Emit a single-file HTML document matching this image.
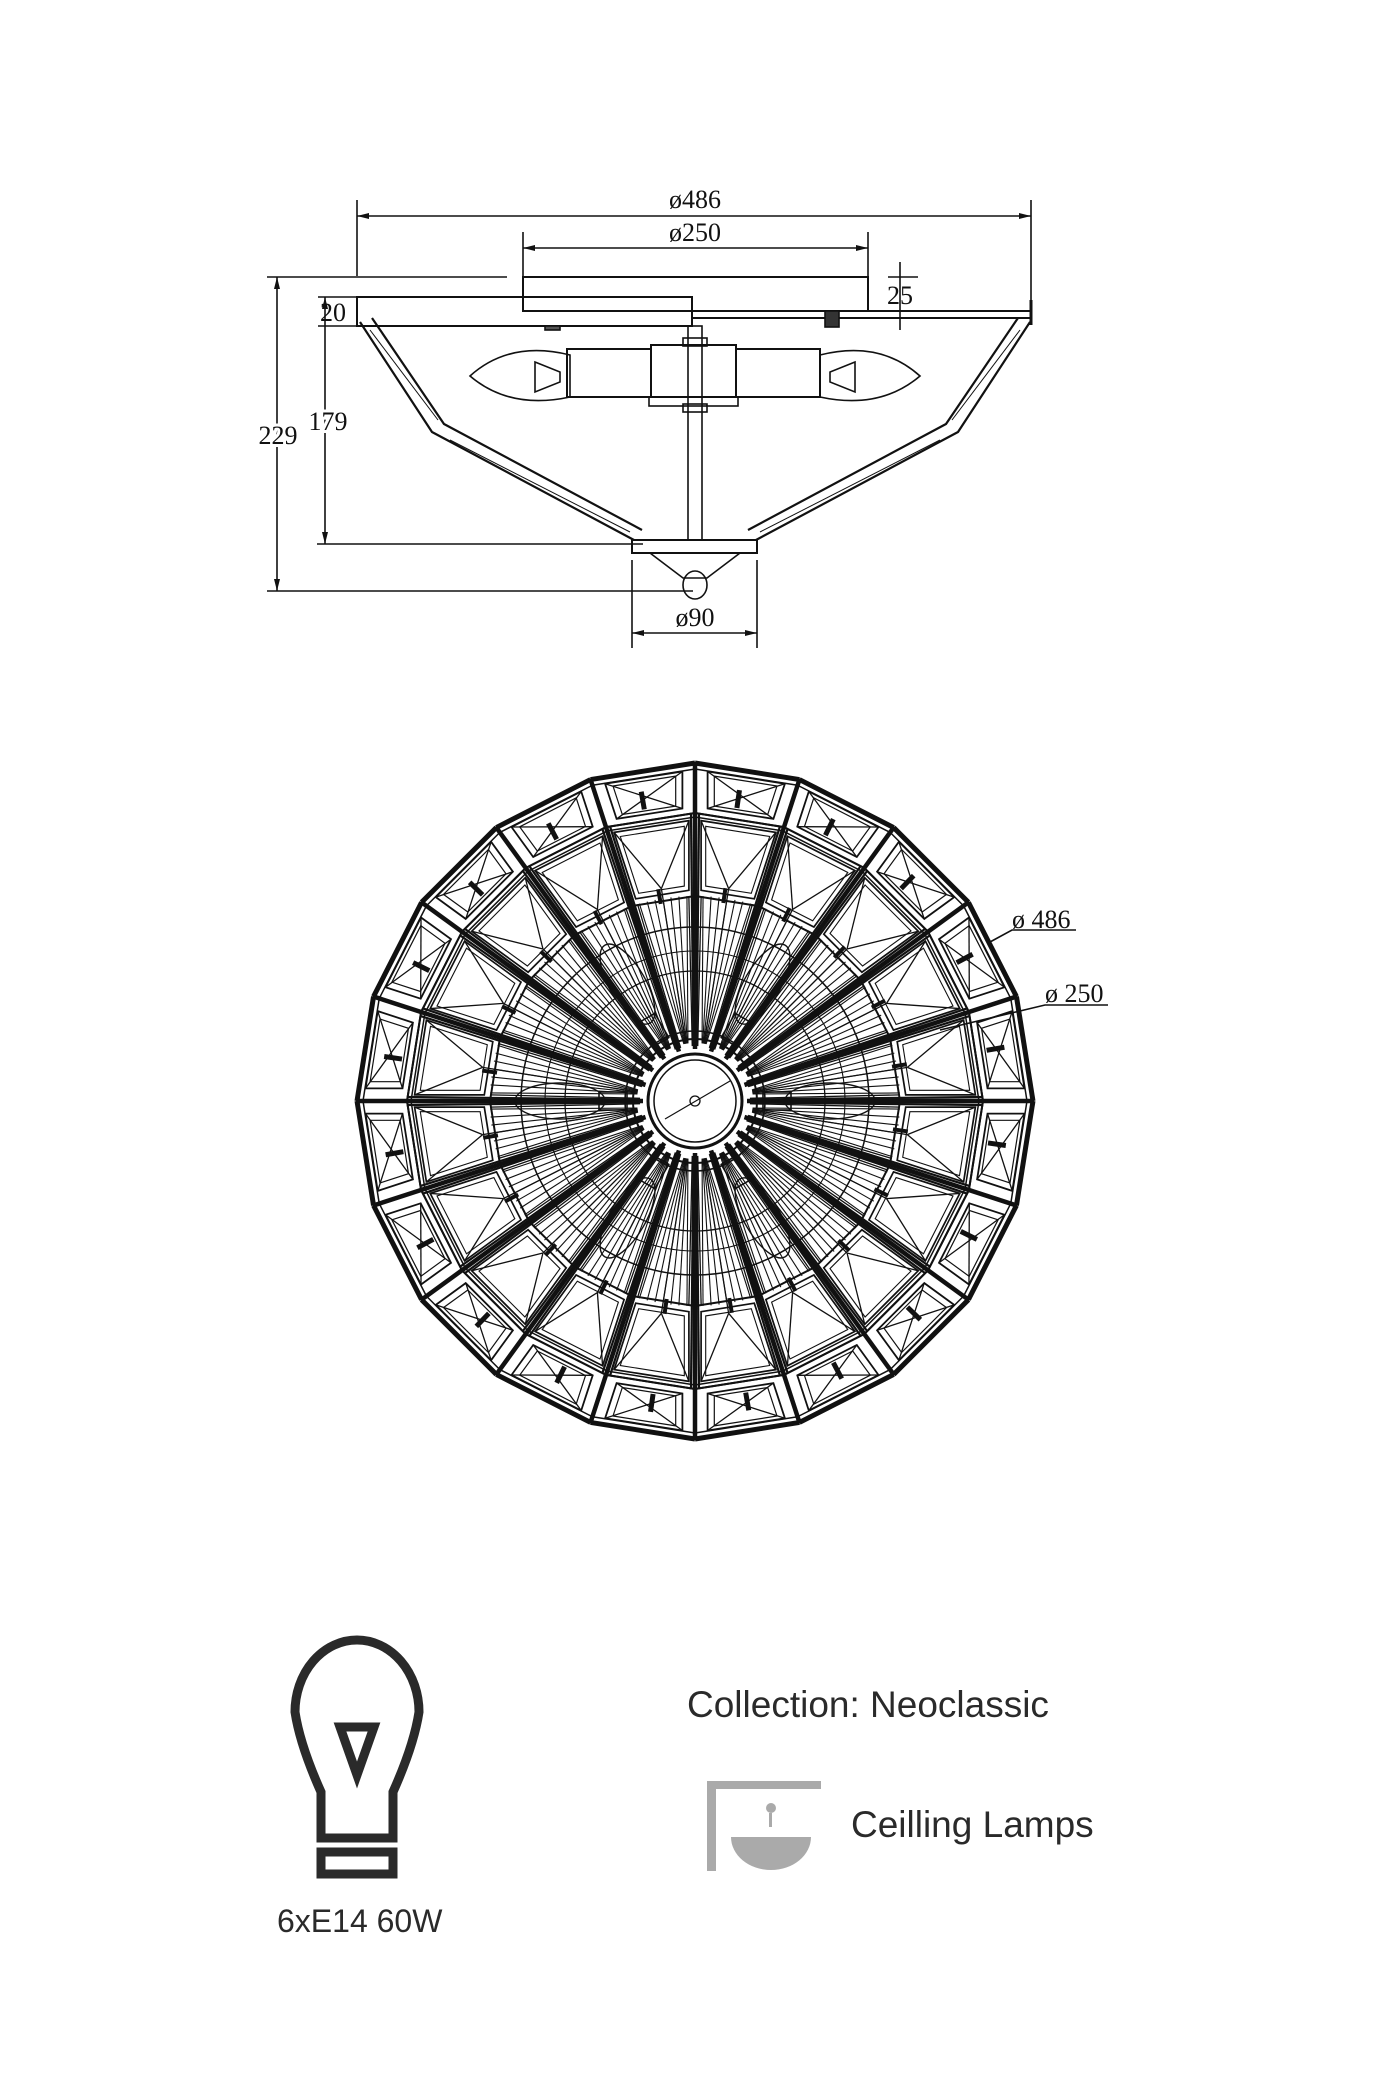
<!DOCTYPE html>
<html><head><meta charset="utf-8"><style>
html,body{margin:0;padding:0;background:#fff;width:1400px;height:2100px;overflow:hidden}
svg{display:block}
.d{font-family:"Liberation Serif",serif;font-size:26px;fill:#111}
.s{font-family:"Liberation Sans",sans-serif;fill:#2a2a2a}
</style></head><body>
<svg id="sv" width="1400" height="2100" viewBox="0 0 1400 2100" xmlns="http://www.w3.org/2000/svg">
<defs><marker id="ar" markerWidth="12" markerHeight="8" refX="12" refY="4" orient="auto-start-reverse" markerUnits="userSpaceOnUse"><path d="M0,1 L12,4 L0,7 z" fill="#111"/></marker></defs>
<g stroke="#111" fill="none" stroke-width="1.6">
<line x1="357" y1="200" x2="357" y2="276"/><line x1="1031" y1="200" x2="1031" y2="300"/>
<line x1="357" y1="216" x2="1031" y2="216" marker-start="url(#ar)" marker-end="url(#ar)"/>
<line x1="523" y1="232" x2="523" y2="276"/><line x1="868" y1="232" x2="868" y2="306"/>
<line x1="523" y1="248" x2="868" y2="248" marker-start="url(#ar)" marker-end="url(#ar)"/>
<line x1="267" y1="277" x2="507" y2="277"/>
<rect x="523" y="277" width="345" height="34" stroke-width="2"/>
<rect x="357" y="297" width="335" height="29" stroke-width="2"/>
<line x1="692" y1="311" x2="1030" y2="311" stroke-width="2"/><line x1="692" y1="318" x2="1030" y2="318" stroke-width="2"/>
<line x1="1031" y1="300" x2="1031" y2="325" stroke-width="3"/>
<rect x="825" y="311" width="14" height="16" fill="#333"/><rect x="545" y="326" width="15" height="4" fill="#555"/>
<line x1="900" y1="262" x2="900" y2="330"/><line x1="888" y1="277" x2="918" y2="277"/>
<line x1="318" y1="297" x2="357" y2="297"/><line x1="318" y1="326" x2="357" y2="326"/>
<line x1="277" y1="277" x2="277" y2="591" marker-start="url(#ar)" marker-end="url(#ar)"/>
<line x1="267" y1="591" x2="693" y2="591"/>
<line x1="325" y1="297" x2="325" y2="544" marker-start="url(#ar)" marker-end="url(#ar)"/>
<line x1="317" y1="544" x2="643" y2="544"/>
<g stroke-width="2.2">
<polyline points="360,322 432,432 634,540"/><polyline points="372,318 444,424 642,530"/>
<polyline points="1030,322 958,432 756,540"/><polyline points="1018,318 946,424 748,530"/>
<line x1="370" y1="330" x2="438" y2="420" stroke-width="1"/><line x1="450" y1="440" x2="630" y2="532" stroke-width="1"/>
<line x1="1020" y1="330" x2="952" y2="420" stroke-width="1"/><line x1="940" y1="440" x2="760" y2="532" stroke-width="1"/>
</g>
<rect x="688" y="326" width="14" height="214"/>
<rect x="651" y="345" width="85" height="52" stroke-width="2"/><rect x="649" y="397" width="89" height="9"/>
<rect x="567" y="349" width="84" height="48" stroke-width="2"/><rect x="736" y="349" width="84" height="48" stroke-width="2"/>
<path d="M470,376 Q510,340 570,355 L570,397 Q510,410 470,376z"/>
<path d="M920,376 Q880,340 820,355 L820,397 Q880,410 920,376z"/>
<path d="M535,362 L560,372 L560,382 L535,392z"/><path d="M855,362 L830,372 L830,382 L855,392z"/>
<rect x="683" y="338" width="24" height="8"/><rect x="683" y="404" width="24" height="8"/>
<rect x="632" y="540" width="125" height="13" stroke-width="2"/>
<polyline points="650,553 683,578 707,578 740,553"/>
<ellipse cx="695" cy="585" rx="12" ry="14"/>
<line x1="632" y1="560" x2="632" y2="648"/><line x1="757" y1="560" x2="757" y2="648"/>
<line x1="632" y1="633" x2="757" y2="633" marker-start="url(#ar)" marker-end="url(#ar)"/>
<polyline points="990,942 1012,930 1076,930"/>
<polyline points="940,1030 1045,1005 1108,1005"/>
</g>
<g id="top" stroke="#111" fill="none"></g>
<g class="d">
<text x="695" y="208" text-anchor="middle">ø486</text>
<text x="695" y="241" text-anchor="middle">ø250</text>
<text x="900" y="304" text-anchor="middle">25</text>
<text x="333" y="321" text-anchor="middle">20</text>
<text x="278" y="444" text-anchor="middle" style="paint-order:stroke" stroke="#fff" stroke-width="6">229</text>
<text x="328" y="430" text-anchor="middle" style="paint-order:stroke" stroke="#fff" stroke-width="6">179</text>
<text x="695" y="626" text-anchor="middle">ø90</text>
<text x="1012" y="928">ø 486</text>
<text x="1045" y="1002">ø 250</text>
</g>
<g stroke="#2a2a2a" stroke-width="9" fill="none" stroke-linejoin="miter">
<path d="M321,1838 L321,1792 Q300,1745 295,1712 A62,72 0 1 1 419,1712 Q414,1745 393,1792 L393,1838 Z"/>
<path d="M340,1727 L374,1727 L357,1775 Z"/>
<rect x="321" y="1852" width="72" height="22"/>
</g>
<text class="s" x="277" y="1932" font-size="32">6xE14 60W</text>
<text class="s" x="687" y="1717" font-size="37">Collection: Neoclassic</text>
<text class="s" x="851" y="1837" font-size="37">Ceilling Lamps</text>
<g fill="#aaa"><rect x="707" y="1781" width="9" height="90"/><rect x="707" y="1781" width="114" height="8"/>
<path d="M731,1837 L811,1837 A40,33 0 0 1 731,1837z"/><circle cx="771" cy="1808" r="5"/><rect x="769" y="1813" width="3" height="14"/></g>
</svg>
<script>
(function(){
var g=document.getElementById('top'),cx=695,cy=1101,N=20,ns='http://www.w3.org/2000/svg';
function P(r,a){return [cx+r*Math.cos(a),cy+r*Math.sin(a)];}
function add(t,at){var e=document.createElementNS(ns,t);for(var k in at)e.setAttribute(k,at[k]);g.appendChild(e);}
function pl(pts,w,close){add(close?'polygon':'polyline',{points:pts.map(function(p){return p[0].toFixed(1)+','+p[1].toFixed(1)}).join(' '),'stroke-width':w});}
function L(a,b,w){add('line',{x1:a[0],y1:a[1],x2:b[0],y2:b[1],'stroke-width':w});}
function lerp(a,b,t){return [a[0]+(b[0]-a[0])*t,a[1]+(b[1]-a[1])*t];}
function inset(q,t){var c=[0,0];q.forEach(function(p){c[0]+=p[0]/4;c[1]+=p[1]/4});return q.map(function(p){return lerp(c,p,t)});}
var da=2*Math.PI/N;
for(var i=0;i<N;i++){
 var a0=i*da+Math.PI/2,a1=a0+da,am=a0+da/2;
 L(P(338,a0),P(338,a1),5);L(P(332,a0),P(332,a1),1.5);
 var q1=[P(338,a0),P(338,a1),P(288,a1),P(288,a0)];pl(q1,2,1);
 var q1i=inset(q1,0.74);pl(q1i,1.8,1);var q1j=inset(q1,0.6);pl(q1j,1.2,1);L(q1i[0],q1i[2],1.3);L(q1i[1],q1i[3],1.3);
 L(P(284,a0),P(284,a1),1.5);
 var q2=[P(288,a0),P(288,a1),P(205,a1),P(205,a0)];pl(q2,2,1);
 var q2i=inset(q2,0.84);pl(q2i,1.7,1);var q2j=inset(q2,0.72);pl(q2j,1.1,1);
 var tip=P(215,am);L(q2i[0],tip,1.3);L(q2i[1],tip,1.3);L(tip,P(60,am),1.3);
 L(P(52,a0),P(338,a0),4.5);L(P(55,a0+0.028),P(288,a0+0.014),2.2);L(P(55,a0-0.028),P(288,a0-0.014),2.2);
 L(P(55,a0+0.05),P(205,a0+0.03),1.3);L(P(55,a0-0.05),P(205,a0-0.03),1.3);
 for(var k=1;k<8;k++){var ak=a0+da*k/8;L(P(205,ak),P(58,am+(ak-am)*0.3),1.1);}
 L(P(296,am-0.015),P(314,am-0.015),5);
 L(P(200,am-0.015),P(215,am-0.015),4);
}
add('circle',{cx:cx,cy:cy,r:174,'stroke-width':1.5});
add('circle',{cx:cx,cy:cy,r:150,'stroke-width':1.1});
add('circle',{cx:cx,cy:cy,r:130,'stroke-width':1.3});
add('circle',{cx:cx,cy:cy,r:70,'stroke-width':1.6});
add('circle',{cx:cx,cy:cy,r:62,'stroke-width':2});
add('circle',{cx:cx,cy:cy,r:47,fill:'#fff','stroke-width':3});
add('circle',{cx:cx,cy:cy,r:41,'stroke-width':1.5});
add('circle',{cx:cx,cy:cy,r:5,'stroke-width':1.3});
L([cx-30,cy+18],[cx+35,cy-20],1.2);
for(var j=0;j<6;j++){var a=j*Math.PI/3;var c=P(135,a);
 add('ellipse',{cx:c[0],cy:c[1],rx:45,ry:18,transform:'rotate('+(a*180/Math.PI)+' '+c[0]+' '+c[1]+')','stroke-width':1.4});
 var b=P(82,a);add('rect',{x:b[0]-14,y:b[1]-9,width:28,height:18,transform:'rotate('+(a*180/Math.PI)+' '+b[0]+' '+b[1]+')','stroke-width':1.6});}
})();
</script>
</body></html>
